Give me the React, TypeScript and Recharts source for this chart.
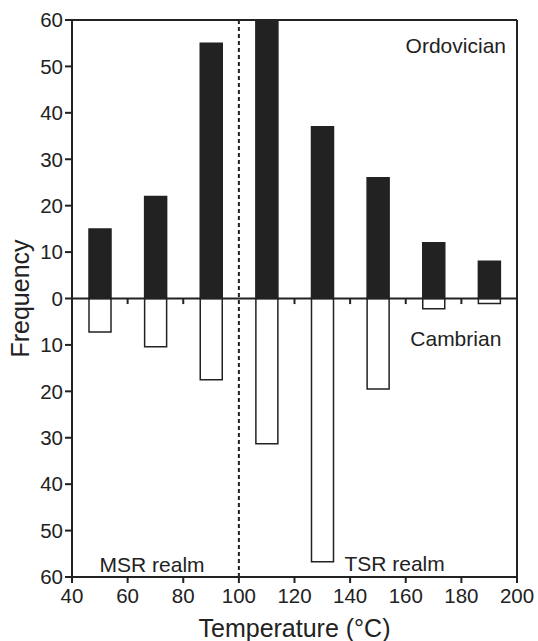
import { BarChart, Bar, XAxis, YAxis, ReferenceLine, ReferenceDot } from 'recharts'

// temperature bins (°C) and bar counts
const temps = [50, 70, 90, 110, 130, 150, 170, 190]
const ordovician = [15, 22, 55, 60, 37, 26, 12, 8]
const cambrian = [7.2, 10.4, 17.5, 31.3, 56.7, 19.5, 2.2, 1.1]

const xTicks = [40, 60, 80, 100, 120, 140, 160, 180, 200]
const yTicks = [-60, -50, -40, -30, -20, -10, 0, 10, 20, 30, 40, 50, 60]
const zeroTicks = [60, 80, 120, 140, 160, 180]

const data = temps.map((t, i) => ({ t, ord: ordovician[i], cam: -cambrian[i] }))

const INK = '#222'
const FONT = '"Liberation Sans", Arial, sans-serif'

export default function App() {
  const tickStyle = { fill: INK, fontSize: 20.5, fontFamily: FONT }
  const textLabel = (value: string) => ({
    value,
    position: 'center' as const,
    fill: INK,
    fontSize: 21,
    fontFamily: FONT,
  })

  return (
    <div style={{ position: 'absolute', left: 0, top: 0, background: '#fff' }}>
      <BarChart
        width={538}
        height={641}
        data={data}
        stackOffset="sign"
        margin={{ top: 20, right: 21, bottom: 4, left: 0 }}
      >
        <XAxis
          dataKey="t"
          type="number"
          domain={[40, 200]}
          ticks={xTicks}
          interval={0}
          height={60}
          tick={tickStyle}
          tickSize={6}
          tickMargin={5}
          axisLine={{ stroke: INK, strokeWidth: 2 }}
          tickLine={{ stroke: INK, strokeWidth: 2 }}
          label={{ value: 'Temperature (°C)', position: 'center', dy: 21, fill: INK, fontSize: 25, fontFamily: FONT }}
        />
        <YAxis
          type="number"
          domain={[-60, 60]}
          ticks={yTicks}
          interval={0}
          width={72}
          tick={tickStyle}
          tickSize={7}
          tickFormatter={(v: number) => String(Math.abs(v))}
          axisLine={{ stroke: INK, strokeWidth: 2 }}
          tickLine={{ stroke: INK, strokeWidth: 2 }}
          label={{ value: 'Frequency', angle: -90, position: 'center', dx: -16, fill: INK, fontSize: 25, fontFamily: FONT }}
        />
        <ReferenceLine y={60} stroke={INK} strokeWidth={2} />
        <ReferenceLine x={200} stroke={INK} strokeWidth={2} />
        <ReferenceLine x={100} stroke={INK} strokeWidth={2} strokeDasharray="4 3" />
        <Bar dataKey="ord" stackId="a" barSize={22} fill={INK} stroke={INK} strokeWidth={1.5} isAnimationActive={false} />
        <Bar dataKey="cam" stackId="a" barSize={22} fill="#fff" stroke={INK} strokeWidth={1.5} isAnimationActive={false} />
        <ReferenceLine y={0} stroke={INK} strokeWidth={2} />
        {zeroTicks.map((x) => (
          <ReferenceLine
            key={x}
            segment={[{ x, y: 0 }, { x, y: -1.2 }]}
            stroke={INK}
            strokeWidth={2}
          />
        ))}
        <ReferenceDot x={178} y={54.6} r={0} stroke="none" label={textLabel('Ordovician')} />
        <ReferenceDot x={178} y={-8.6} r={0} stroke="none" label={textLabel('Cambrian')} />
        <ReferenceDot x={68.8} y={-57.3} r={0} stroke="none" label={textLabel('MSR realm')} />
        <ReferenceDot x={156} y={-57} r={0} stroke="none" label={textLabel('TSR realm')} />
      </BarChart>
    </div>
  )
}
